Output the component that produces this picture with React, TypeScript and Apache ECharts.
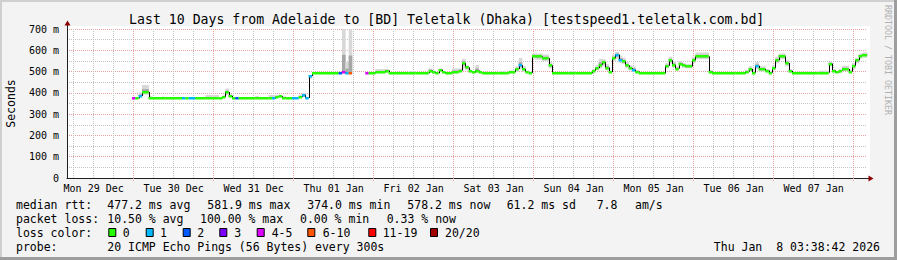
import React, { useEffect, useRef } from 'react';
import * as echarts from 'echarts';

const MONO = 'DejaVu Sans Mono';

// x axis: hours since Mon 29 Dec 00:00 (local)
const X_MIN = 4;
const X_MAX = 244;

const dayLabels = ['Mon 29 Dec', 'Tue 30 Dec', 'Wed 31 Dec', 'Thu 01 Jan', 'Fri 02 Jan', 'Sat 03 Jan', 'Sun 04 Jan', 'Mon 05 Jan', 'Tue 06 Jan', 'Wed 07 Jan'];

// median rtt step segments (start hour, ms), loss class and smoke spread
const segStart = [23.5, 24.5, 25.5, 26.5, 28.5, 29.5, 32.5, 33.5, 38.5, 39.5, 40.5, 42.5, 45.5, 49.5, 50.5, 51.5, 52.5, 53.5, 54.5, 55.5, 60.5, 61.5, 64.5, 65.5, 66.5, 67.5, 68.5, 69.5, 71.5, 73.5, 74.5, 75.5, 76.5, 77.5, 85.5, 86.5, 87.5, 88.5, 89.5, 93.5, 94.5, 96.5, 99.5, 100.5, 106.5, 108.5, 112.5, 113.5, 114.5, 115.5, 116.5, 117.5, 119.5, 121.5, 122.5, 123.5, 124.5, 125.5, 126.5, 127.5, 128.5, 133.5, 135.5, 136.5, 138.5, 139.5, 140.5, 141.5, 142.5, 143.5, 144.5, 146.5, 148.5, 149.5, 154.5, 156.5, 161.5, 162.5, 163.5, 164.5, 165.5, 166.5, 167.5, 168.5, 169.5, 170.5, 171.5, 172.5, 173.5, 174.5, 175.5, 183.5, 184.5, 185.5, 186.5, 187.5, 188.5, 189.5, 191.5, 192.5, 196.5, 197.5, 203.5, 204.5, 207.5, 208.5, 209.5, 210.5, 211.5, 213.5, 214.5, 215.5, 216.5, 217.5, 219.5, 220.5, 221.5, 229.5, 232.5, 233.5, 234.5, 235.5, 236.5, 238.5, 239.5, 240.5, 241.5, 242.5];
const segMedian = [374, 374, 386, 404, 374, 374, 374, 374, 374, 374, 376, 374, 374, 374, 381, 404, 386, 376, 374, 374, 374, 374, 374, 374, 380, 384, 378, 376, 376, 380, 391, 376, 480, 492, 494, 498, 492, 492, null, 493, 493, 497, 505, 492, 492, 492, 505, 498, 492, 509, 497, 492, 498, 505, 540, 520, 502, 496, 505, 497, 492, 492, 492, 498, 512, 530, 512, 498, 494, 574, 571, 563, 529, 492, 492, 492, 505, 516, 532, 545, 519, 498, 563, 580, 556, 548, 529, 516, 509, 500, 492, 527, 553, 532, 514, 537, 529, 524, 553, 571, 500, 492, 492, 492, 500, 512, 495, 527, 512, 505, 495, 516, 553, 571, 540, 503, 495, 495, 537, 505, 496, 505, 512, 500, 527, 553, 574, 579];
const segLoss = [4, 0, 1, 0, 0, 0, 0, 0, 1, 0, 1, 0, 0, 0, 0, 0, 0, 0, 2, 0, 0, 0, 0, 1, 0, 0, 0, 0, 1, 0, 1, 1, 1, 0, 2, 4, 1, 5, null, 4, 0, 0, 0, 0, 0, 0, 0, 0, 0, 0, 0, 0, 0, 0, 0, 0, 0, 0, 0, 0, 0, 0, 0, 0, 0, 1, 0, 0, 0, 0, 0, 0, 0, 0, 0, 0, 0, 0, 0, 0, 0, 0, 0, 1, 1, 0, 0, 0, 1, 0, 0, 0, 0, 0, 0, 0, 0, 0, 0, 0, 0, 0, 0, 0, 0, 0, 0, 1, 0, 0, 0, 0, 0, 0, 0, 0, 0, 0, 0, 0, 0, 0, 0, 0, 0, 0, 0, 0, 0, 1];
const segSmokeLo = [372, 372, 380, 392, 372, 372, 372, 372, 372, 372, 373, 372, 372, 372, 376, 390, 378, 372, 372, 372, 372, 372, 372, 372, 376, 378, 374, 374, 374, 376, 380, 372, 466, 490, 490, 490, 488, 488, null, 490, 490, 492, 495, 490, 490, 490, 495, 492, 490, 498, 492, 490, 492, 497, 515, 505, 495, 492, 495, 492, 490, 490, 490, 493, 500, 510, 500, 493, 490, 560, 555, 550, 515, 490, 490, 490, 495, 505, 515, 525, 505, 492, 550, 560, 540, 535, 515, 505, 500, 492, 490, 515, 538, 520, 505, 525, 518, 515, 540, 558, 492, 490, 490, 490, 493, 500, 490, 512, 500, 497, 490, 505, 538, 558, 525, 495, 491, 491, 525, 497, 492, 497, 502, 493, 512, 538, 560, 565];
const segSmokeHi = [378, 380, 402, 437, 386, 377, 382, 377, 377, 377, 380, 377, 390, 378, 388, 420, 395, 380, 378, 377, 385, 377, 390, 390, 390, 390, 384, 380, 380, 392, 398, 382, 484, 496, 498, 700, 545, 700, null, 497, 497, 512, 512, 496, 503, 496, 515, 505, 497, 515, 503, 496, 515, 515, 560, 530, 510, 502, 530, 503, 496, 502, 496, 505, 525, 564, 525, 505, 500, 585, 585, 580, 545, 496, 503, 496, 512, 530, 560, 558, 535, 505, 580, 592, 575, 565, 545, 530, 525, 508, 496, 540, 570, 548, 525, 550, 540, 535, 570, 590, 508, 496, 500, 496, 508, 525, 505, 545, 525, 512, 500, 530, 570, 585, 555, 512, 499, 504, 548, 512, 502, 512, 527, 508, 540, 565, 585, 590];

const lossColors = ['#26ff00', '#00b8ff', '#0059ff', '#7e00ff', '#dd00ff', '#ff5500', '#ff0000', '#a00000'];
const lossLabels = ['0', '1', '2', '3', '4-5', '6-10', '11-19', '20/20'];

const statRows = [
  { y: 204.5, items: [['median rtt:', 16], ['477.2 ms avg', 107.3], ['581.9 ms max', 207.3], ['374.0 ms min', 307.3], ['578.2 ms now', 407.3], ['61.2 ms sd', 506.7], ['7.8', 596.7], ['am/s', 635]] },
  { y: 218.5, items: [['packet loss:', 16], ['10.50 % avg', 107.3], ['100.00 % max', 200], ['0.00 % min', 300], ['0.33 % now', 386.7]] },
  { y: 232.5, items: [['loss color:', 16]] },
  { y: 246.5, items: [['probe:', 16], ['20 ICMP Echo Pings (56 Bytes) every 300s', 107.3]] },
];
const legendBoxX = [108.3, 145.7, 182.7, 219.3, 256.7, 307.3, 368.3, 430];
const legendTextX = [122.7, 160, 197.3, 234.3, 271.7, 322.7, 382.7, 445];

function buildSegments() {
  const out: any[] = [];
  for (let i = 0; i < segStart.length; i++) {
    const m = segMedian[i];
    if (m == null) continue;
    const end = i + 1 < segStart.length ? segStart[i + 1] : X_MAX;
    const prev = i > 0 ? segMedian[i - 1] : null;
    out.push([segStart[i], end, m, segLoss[i], segSmokeLo[i], segSmokeHi[i], prev == null ? NaN : prev]);
  }
  return out;
}

function txt(text: string, x: number, y: number, size: number, extra: any = {}) {
  return {
    type: 'text',
    x, y,
    z: 100,
    silent: true,
    rotation: extra.rotation || 0,
    style: {
      text,
      font: `${size}px "${MONO}"`,
      fill: extra.fill || '#000',
      textAlign: extra.align || 'left',
      textVerticalAlign: 'middle',
      align: extra.align || 'left',
      verticalAlign: 'middle',
    },
  };
}

export default function App() {
  const ref = useRef<HTMLDivElement>(null);
  useEffect(() => {
    document.body.style.margin = '0';
    const chart = echarts.init(ref.current!, undefined, { renderer: 'svg', width: 897, height: 260 });
    const segs = buildSegments();

    const midnights: number[] = [];
    const sixHours: number[] = [];
    for (let h = 6; h < X_MAX; h += 6) {
      if (h % 24 === 0) midnights.push(h); else if (h > X_MIN) sixHours.push(h);
    }
    const noons = dayLabels.map((_, i) => 12 + 24 * i);

    const graphics: any[] = [];
    // frame
    graphics.push({ type: 'rect', z: -20, silent: true, shape: { x: 0, y: 0, width: 897, height: 2 }, style: { fill: '#cfcfcf' } });
    graphics.push({ type: 'rect', z: -20, silent: true, shape: { x: 0, y: 0, width: 2, height: 260 }, style: { fill: '#cfcfcf' } });
    graphics.push({ type: 'rect', z: -20, silent: true, shape: { x: 0, y: 257, width: 897, height: 3 }, style: { fill: '#9e9e9e' } });
    graphics.push({ type: 'rect', z: -20, silent: true, shape: { x: 894, y: 0, width: 3, height: 260 }, style: { fill: '#9e9e9e' } });
    // canvas
    graphics.push({ type: 'rect', z: -10, silent: true, shape: { x: 67, y: 26, width: 803, height: 152 }, style: { fill: '#ffffff' } });
    // arrows
    graphics.push({ type: 'line', z: 50, silent: true, shape: { x1: 67.5, y1: 29, x2: 67.5, y2: 24 }, style: { stroke: '#202020', lineWidth: 1 } });
    graphics.push({ type: 'polygon', z: 50, silent: true, shape: { points: [[64.5, 25.5], [70.5, 25.5], [67.5, 20.5]] }, style: { fill: '#8b0000' } });
    graphics.push({ type: 'line', z: 50, silent: true, shape: { x1: 867, y1: 178.5, x2: 869, y2: 178.5 }, style: { stroke: '#202020', lineWidth: 1 } });
    graphics.push({ type: 'polygon', z: 50, silent: true, shape: { points: [[868.5, 175.5], [868.5, 181.5], [873.5, 178.5]] }, style: { fill: '#8b0000' } });
    // title & axis title & watermark
    graphics.push(txt('Last 10 Days from Adelaide to [BD] Teletalk (Dhaka) [testspeed1.teletalk.com.bd]', 446.7, 19.5, 13.2, { align: 'center' }));
    graphics.push(txt('Seconds', 11, 103.5, 11.5, { align: 'center', rotation: Math.PI / 2 }));
    graphics.push(txt('RRDTOOL / TOBI OETIKER', 887.5, 60, 8.3, { align: 'center', rotation: -Math.PI / 2, fill: '#b0b0b0' }));
    // legend rows
    statRows.forEach((row) => {
      row.items.forEach(([t, x]) => graphics.push(txt(t as string, x as number, row.y, 11.5)));
    });
    lossColors.forEach((c, i) => {
      graphics.push({ type: 'rect', z: 100, silent: true, shape: { x: legendBoxX[i] + 0.5, y: 228.5, width: 7, height: 8 }, style: { fill: c, stroke: '#000', lineWidth: 1 } });
      graphics.push(txt(lossLabels[i], legendTextX[i], 232.5, 11.5));
    });
    graphics.push(txt('Thu Jan  8 03:38:42 2026', 880, 246.5, 11.5, { align: 'right' }));

    const majorColor = '#eba0a0';
    const minorColor = '#c4c4c4';

    const option: any = {
      animation: false,
      backgroundColor: '#f3f3f3',
      grid: { left: 67, top: 29, width: 800, height: 149, containLabel: false },
      xAxis: [
        {
          type: 'value', min: X_MIN, max: X_MAX, position: 'bottom',
          axisLine: { show: true, lineStyle: { color: '#202020', width: 1 } },
          axisTick: { show: true, length: 3, customValues: midnights, lineStyle: { color: majorColor, type: [1, 1] } },
          axisLabel: {
            show: true, customValues: noons, margin: 5, fontFamily: MONO, fontSize: 10, color: '#000',
            formatter: (v: number) => dayLabels[Math.round((v - 12) / 24)] || '',
          },
          splitLine: { show: true, lineStyle: { color: majorColor, width: 1, type: [1, 1] } },
        },
        {
          type: 'value', min: X_MIN, max: X_MAX, position: 'top',
          axisLine: { show: false }, axisLabel: { show: false },
          axisTick: { show: false, customValues: sixHours },
          splitLine: { show: true, lineStyle: { color: minorColor, width: 1, type: [1, 1] } },
        },
      ],
      yAxis: {
        type: 'value', min: 0, max: 700, interval: 100,
        axisLine: { show: true, lineStyle: { color: '#202020', width: 1 } },
        axisTick: { show: false },
        axisLabel: { margin: 8, fontFamily: MONO, fontSize: 10, color: '#000', formatter: (v: number) => (v === 0 ? '0' : `${v} m`) },
        splitLine: { show: true, lineStyle: { color: majorColor, width: 1, type: [1, 1] } },
        minorTick: { show: false, splitNumber: 2 },
        minorSplitLine: { show: true, lineStyle: { color: minorColor, width: 1, type: [1, 1] } },
      },
      graphic: { elements: graphics },
      series: [
        {
          type: 'custom', name: 'smoke', xAxisIndex: 0, yAxisIndex: 0, z: 3, silent: true,
          data: segs,
          encode: { x: [0, 1], y: [2, 4, 5] },
          renderItem: (params: any, api: any) => {
            const s = api.value(0), e = api.value(1), m = api.value(2), lo = api.value(4), hi = api.value(5);
            const a = api.coord([s, hi]);
            const b = api.coord([e, lo]);
            const dHi = m + (hi - m) * 0.4;
            const dLo = m + (lo - m) * 0.4;
            const c = api.coord([s, dHi]);
            const d = api.coord([e, dLo]);
            return {
              type: 'group',
              children: [
                { type: 'rect', shape: { x: a[0], y: a[1], width: b[0] - a[0] + 0.3, height: b[1] - a[1] }, style: { fill: '#d8d8d8' } },
                { type: 'rect', shape: { x: c[0], y: c[1], width: d[0] - c[0] + 0.3, height: d[1] - c[1] }, style: { fill: '#a6a6a6' } },
              ],
            };
          },
        },
        {
          type: 'custom', name: 'steps', xAxisIndex: 0, yAxisIndex: 0, z: 4, silent: true,
          data: segs,
          encode: { x: [0, 1], y: [2] },
          renderItem: (params: any, api: any) => {
            const s = api.value(0), m = api.value(2), prev = api.value(6);
            if (prev == null || isNaN(prev) || prev === m) return { type: 'group', children: [] };
            const p = api.coord([s, prev]);
            const q = api.coord([s, m]);
            const x = Math.round(p[0]) + 0.5;
            return { type: 'line', shape: { x1: x, y1: p[1], x2: x, y2: q[1] }, style: { stroke: '#000', lineWidth: 1 } };
          },
        },
        {
          type: 'custom', name: 'median', xAxisIndex: 0, yAxisIndex: 0, z: 5, silent: true,
          data: segs,
          encode: { x: [0, 1], y: [2] },
          renderItem: (params: any, api: any) => {
            const s = api.value(0), e = api.value(1), m = api.value(2), loss = api.value(3);
            const p = api.coord([s, m]);
            const q = api.coord([e, m]);
            return { type: 'rect', shape: { x: p[0], y: Math.round(p[1]) - 1, width: q[0] - p[0], height: 2.5 }, style: { fill: lossColors[loss] } };
          },
        },
      ],
    };
    chart.setOption(option);
    return () => chart.dispose();
  }, []);
  return <div ref={ref} style={{ width: 897, height: 260 }} />;
}
